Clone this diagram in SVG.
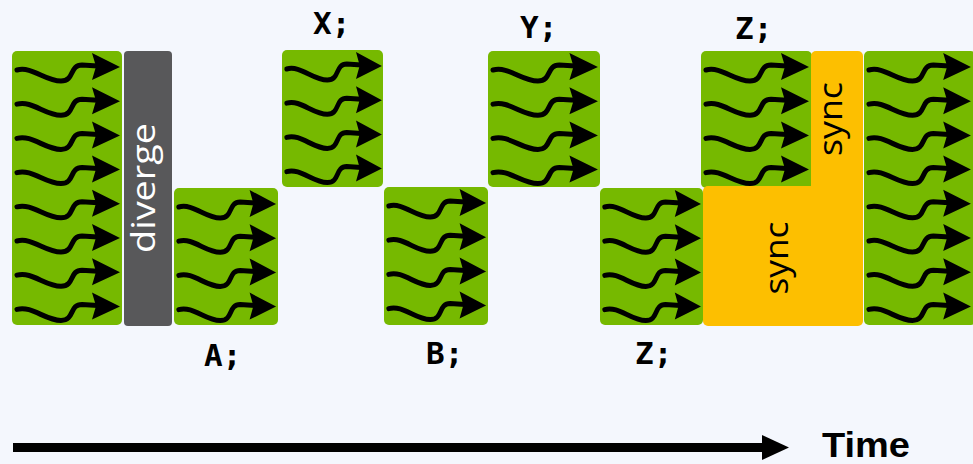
<svg xmlns="http://www.w3.org/2000/svg" xmlns:xlink="http://www.w3.org/1999/xlink" width="973" height="464" viewBox="0 0 973 464">
<style>
.blk{fill:#76b900}
.div{fill:#58585a}
.syn{fill:#fdbf00}
.lbl{font-family:"DejaVu Sans Mono","Liberation Mono",monospace;font-weight:bold;font-size:31px;fill:#000}
.vt{font-family:"Open Sans","Noto Sans","Liberation Sans",sans-serif;font-size:33px}
</style>
<defs>
<g id="w">
<path d="M5,0 C20,-4 33,11 49,11 C63,11 57,-5 70,-5 L86,-4" fill="none" stroke="#000" stroke-width="5" stroke-linecap="round"/>
<path d="M80,-17 L108,-3 L80,10 L84,-3.5 Z" fill="#000"/>
</g>
<g id="w4">
<use href="#w" y="19"/>
<use href="#w" y="53.2"/>
<use href="#w" y="87.4"/>
<use href="#w" y="121.6"/>
</g>
<g id="w8">
<use href="#w4"/>
<use href="#w4" y="136.8"/>
</g>
</defs>
<rect width="973" height="464" fill="#f4f7fd"/>

<g id="block-start">
<rect class="blk" x="12" y="51" width="110" height="274" rx="5"/>
<use href="#w8" transform="translate(12,51)"/>
</g>

<g id="diverge">
<rect class="div" x="124" y="51" width="48" height="275" rx="4"/>
<text class="vt" fill="#fff" text-anchor="middle" transform="translate(155,188) rotate(-90)" textLength="130" lengthAdjust="spacingAndGlyphs">diverge</text>
</g>

<g id="block-A">
<rect class="blk" x="174" y="188" width="104" height="137" rx="5"/>
<use href="#w4" transform="translate(174,188) scale(0.945,1)"/>
<text class="lbl" x="204" y="366">A;</text>
</g>

<g id="block-X">
<rect class="blk" x="282" y="50" width="101" height="137" rx="5"/>
<use href="#w4" transform="translate(282,50) scale(0.925,1)"/>
<text class="lbl" x="313" y="34">X;</text>
</g>

<g id="block-B">
<rect class="blk" x="384" y="187" width="104" height="138" rx="5"/>
<use href="#w4" transform="translate(384,187) scale(0.945,1)"/>
<text class="lbl" x="426" y="364">B;</text>
</g>

<g id="block-Y">
<rect class="blk" x="488" y="51" width="112" height="136" rx="5"/>
<use href="#w4" transform="translate(488,51) scale(1.018,1)"/>
<text class="lbl" x="520" y="38">Y;</text>
</g>

<g id="block-Z-low">
<rect class="blk" x="600" y="188" width="103" height="137" rx="5"/>
<use href="#w4" transform="translate(600,188) scale(0.935,1)"/>
<text class="lbl" x="635" y="364">Z;</text>
</g>

<g id="block-Z-up">
<rect class="blk" x="701" y="51" width="111" height="137" rx="5"/>
<use href="#w4" transform="translate(701,51)"/>
<text class="lbl" x="735" y="39">Z;</text>
</g>

<g id="sync">
<rect class="syn" x="811" y="51" width="52" height="145" rx="5"/>
<rect class="syn" x="703" y="186" width="160" height="140" rx="5"/>
<text class="vt" fill="#000" text-anchor="middle" transform="translate(842,119) rotate(-90)" textLength="74" lengthAdjust="spacingAndGlyphs">sync</text>
<text class="vt" fill="#000" text-anchor="middle" transform="translate(788,258) rotate(-90)" textLength="73" lengthAdjust="spacingAndGlyphs">sync</text>
</g>

<g id="block-end">
<rect class="blk" x="864" y="51" width="112" height="274" rx="5"/>
<use href="#w8" transform="translate(864,51) scale(0.99,1)"/>
</g>

<g id="connectors">
<rect x="13" y="443" width="752" height="9" fill="#000"/>
<path d="M762,435 L789,447.5 L762,460 Z" fill="#000"/>
<text x="822" y="457" font-family="'Liberation Sans',Arial,sans-serif" font-weight="bold" font-size="35" textLength="88" lengthAdjust="spacingAndGlyphs">Time</text>
</g>
</svg>
